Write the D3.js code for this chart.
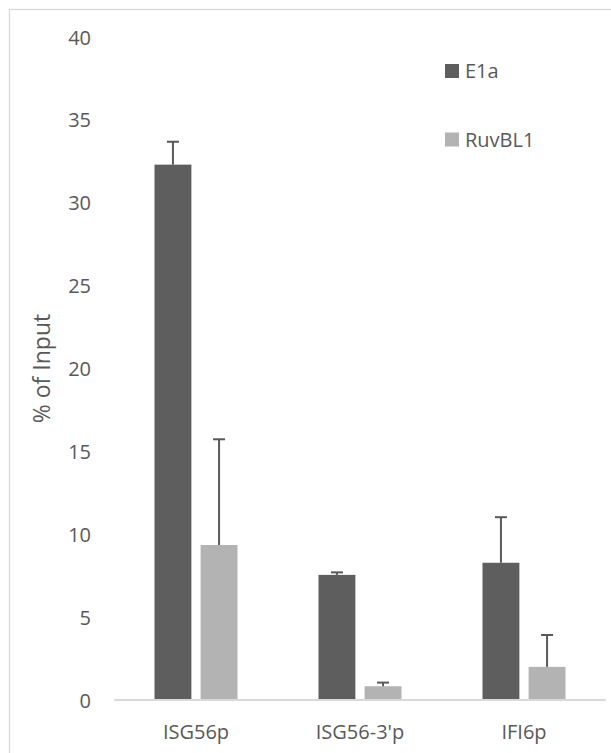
<!DOCTYPE html>
<html>
<head>
<meta charset="utf-8">
<script src="https://cdn.jsdelivr.net/npm/d3@7"></script>
<style>
html,body{margin:0;padding:0;background:#fff;}
svg{display:block;}
text{font-family:"Open Sans",sans-serif;fill:#595959;}
</style>
</head>
<body>
<script>
const categories = ["ISG56p", "ISG56-3'p", "IFI6p"];
const seriesNames = ["E1a", "RuvBL1"];
const e1aValues = [32.3, 7.55, 8.28];
const e1aErrors = [1.38, 0.15, 2.75];
const ruvValues = [9.35, 0.83, 2.0];
const ruvErrors = [6.38, 0.22, 1.92];
const yTicks = [0, 5, 10, 15, 20, 25, 30, 35, 40];
const colors = ["#5e5e5e", "#b3b3b3"];

const W = 611, H = 753;
const svg = d3.select("body").append("svg").attr("width", W).attr("height", H);

// chart border (extends past window on right/bottom)
svg.append("rect").attr("x", 9.5).attr("y", 9.5).attr("width", 700).attr("height", 800)
  .attr("fill", "none").attr("stroke", "#d9d9d9").attr("stroke-width", 1.3);

const x0 = d3.scaleBand().domain(categories).range([114, 606]).paddingInner(0.494).paddingOuter(0.247);
const x1 = d3.scaleBand().domain(seriesNames).range([0, x0.bandwidth()]).paddingInner(0.2);
const y = d3.scaleLinear().domain([0, 40]).range([700, 37]);

const data = categories.map((c, i) => ({
  cat: c,
  vals: [
    {s: seriesNames[0], v: e1aValues[i], e: e1aErrors[i], c: colors[0]},
    {s: seriesNames[1], v: ruvValues[i], e: ruvErrors[i], c: colors[1]}
  ]
}));

// y axis labels
const yAxis = d3.axisLeft(y).tickValues(yTicks).tickSize(0).tickPadding(0);
const yg = svg.append("g").attr("transform", "translate(91,0)").call(yAxis);
yg.select(".domain").remove();
yg.selectAll("text").style("font-size", "20px").attr("fill", "#595959")
  .attr("font-family", "Open Sans").attr("dy", "0.35em");

// bars
const groups = svg.append("g").selectAll("g").data(data).join("g")
  .attr("transform", d => `translate(${x0(d.cat)},0)`);
groups.selectAll("rect").data(d => d.vals).join("rect")
  .attr("x", d => x1(d.s)).attr("width", x1.bandwidth())
  .attr("y", d => y(d.v)).attr("height", d => y(0) - y(d.v))
  .attr("fill", d => d.c);

// error bars (upper only)
groups.selectAll("line.err").data(d => d.vals).join("line").attr("class", "err")
  .attr("x1", d => x1(d.s) + x1.bandwidth() / 2).attr("x2", d => x1(d.s) + x1.bandwidth() / 2)
  .attr("y1", d => y(d.v)).attr("y2", d => y(d.v + d.e))
  .attr("stroke", "#595959").attr("stroke-width", 2);
groups.selectAll("line.cap").data(d => d.vals).join("line").attr("class", "cap")
  .attr("x1", d => x1(d.s) + x1.bandwidth() / 2 - 6).attr("x2", d => x1(d.s) + x1.bandwidth() / 2 + 6)
  .attr("y1", d => y(d.v + d.e)).attr("y2", d => y(d.v + d.e))
  .attr("stroke", "#595959").attr("stroke-width", 2);

// x axis
const xAxis = d3.axisBottom(x0).tickSize(0).tickPadding(0);
const xg = svg.append("g").attr("transform", `translate(0,${y(0)})`).call(xAxis);
xg.select(".domain").attr("stroke", "#d9d9d9").attr("stroke-width", 2)
  .attr("d", "M114,0H606");
xg.selectAll("text").style("font-size", "20px").attr("fill", "#595959")
  .attr("font-family", "Open Sans").attr("dy", null).attr("y", 39);

// y axis title
svg.append("text").attr("transform", `translate(50,${(y(0) + y(40)) / 2}) rotate(-90)`)
  .attr("text-anchor", "middle").style("font-size", "23px").text("% of Input");

// legend
const legY = [71, 139.5];
const leg = svg.append("g").selectAll("g").data(seriesNames).join("g")
  .attr("transform", (d, i) => `translate(445,${legY[i]})`);
leg.append("rect").attr("x", 0).attr("y", -7).attr("width", 14).attr("height", 14)
  .attr("fill", (d, i) => colors[i]);
leg.append("text").attr("x", 20).attr("dy", "0.35em").style("font-size", "20px").text(d => d);
</script>
</body>
</html>
